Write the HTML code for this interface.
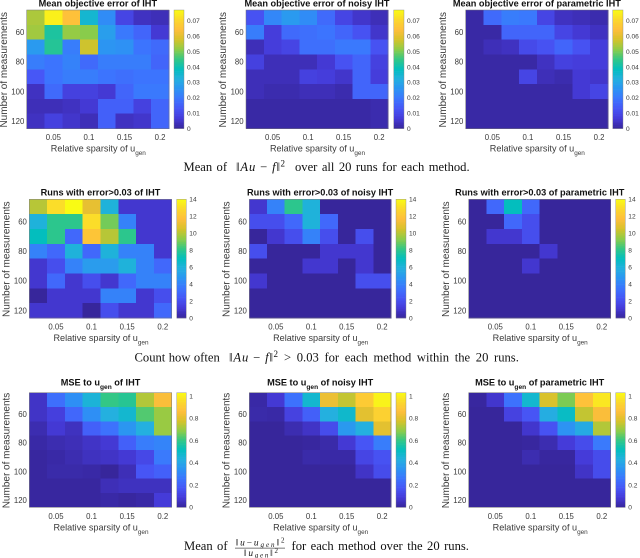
<!DOCTYPE html>
<html lang="en">
<head>
<meta charset="utf-8">
<title>IHT heatmaps</title>
<style>
html,body{margin:0;padding:0;background:#fff;width:640px;height:558px;overflow:hidden}
svg{display:block}
.cap{font-family:"Liberation Serif",serif;font-size:12.6px;fill:#111}
.it{font-style:italic}
</style>
</head>
<body>
<svg id="figure" xmlns="http://www.w3.org/2000/svg" width="640" height="558" viewBox="0 0 640 558">
  <g id="plots"></g>
  <g>
    <text class="cap" y="171" x="183.5" word-spacing="1.2">Mean of</text>
    <text class="cap" y="171" x="236" textLength="44">‖<tspan class="it">Au</tspan> − <tspan class="it">f</tspan>‖</text>
    <text class="cap" y="166.5" x="280.5" style="font-size:9px">2</text>
    <text class="cap" y="171" x="295" word-spacing="1.3">over all 20 runs for each method.</text>
  </g>
  <g>
    <text class="cap" y="361.5" x="134.5" word-spacing="0.3">Count how often</text>
    <text class="cap" y="361.5" x="229" textLength="44">‖<tspan class="it">Au</tspan> − <tspan class="it">f</tspan>‖</text>
    <text class="cap" y="357" x="273.5" style="font-size:9px">2</text>
    <text class="cap" y="361.5" x="284" word-spacing="2.5">&gt; 0.03 for each method within the 20 runs.</text>
  </g>
  <g>
    <text class="cap" y="550" x="184" word-spacing="1.2">Mean of</text>
    <text class="cap" y="545.5" x="235.5" textLength="49" style="font-size:9.4px">‖<tspan class="it">u</tspan>−<tspan class="it">u</tspan><tspan class="it" dy="1.5" style="font-size:7px">gen</tspan><tspan dy="-1.5">‖</tspan><tspan dy="-3" style="font-size:7px">2</tspan></text>
    <rect x="235" y="547.8" width="50" height="0.6" fill="#222"/>
    <text class="cap" y="556" x="244" textLength="34" style="font-size:9.4px">‖<tspan class="it">u</tspan><tspan class="it" dy="1.5" style="font-size:7px">gen</tspan><tspan dy="-1.5">‖</tspan><tspan dy="-3" style="font-size:7px">2</tspan></text>
    <text class="cap" y="550" x="291.5" word-spacing="1.3">for each method over the 20 runs.</text>
  </g>
</svg>
<script>
const xCategories = [0.025, 0.05, 0.075, 0.1, 0.125, 0.15, 0.175, 0.2];
const yCategories = [50, 60, 70, 80, 90, 100, 110, 120];
const xTickValues = [0.05, 0.1, 0.15, 0.2];
const yTickValues = [60, 80, 100, 120];
const xTickLabels = ['0.05', '0.1', '0.15', '0.2'];
const yTickLabels = ['60', '80', '100', '120'];

const meanTicks = [0, 0.01, 0.02, 0.03, 0.04, 0.05, 0.06, 0.07];
const meanTickLabels = ['0', '0.01', '0.02', '0.03', '0.04', '0.05', '0.06', '0.07'];
const meanMax = 0.077;
const countTicks = [0, 2, 4, 6, 8, 10, 12, 14];
const countTickLabels = ['0', '2', '4', '6', '8', '10', '12', '14'];
const countMax = 14;
const mseTicks = [0, 0.2, 0.4, 0.6, 0.8, 1];
const mseTickLabels = ['0', '0.2', '0.4', '0.6', '0.8', '1'];
const mseMax = 1.03;

const meanIht = [
  [0.054, 0.075, 0.065, 0.035, 0.024, 0.009, 0.004, 0.003],
  [0.053, 0.042, 0.052, 0.051, 0.028, 0.020, 0.016, 0.006],
  [0.027, 0.043, 0.021, 0.057, 0.026, 0.025, 0.019, 0.017],
  [0.021, 0.019, 0.022, 0.017, 0.021, 0.021, 0.021, 0.016],
  [0.013, 0.019, 0.021, 0.021, 0.019, 0.018, 0.019, 0.019],
  [0.004, 0.017, 0.008, 0.008, 0.006, 0.016, 0.020, 0.020],
  [0.003, 0.003, 0.004, 0.006, 0.015, 0.015, 0.008, 0.016],
  [0.004, 0.008, 0.005, 0.003, 0.015, 0.004, 0.005, 0.016]
];
const meanNoisy = [
  [0.012, 0.023, 0.027, 0.024, 0.017, 0.009, 0.005, 0.003],
  [0.021, 0.007, 0.017, 0.018, 0.019, 0.016, 0.012, 0.005],
  [0.003, 0.007, 0.009, 0.018, 0.018, 0.020, 0.020, 0.012],
  [0.008, 0.003, 0.003, 0.003, 0.006, 0.012, 0.016, 0.008],
  [0.003, 0.003, 0.003, 0.008, 0.007, 0.005, 0.016, 0.007],
  [0.003, 0.002, 0.002, 0.003, 0.003, 0.002, 0.016, 0.016],
  [0.001, 0.001, 0.001, 0.001, 0.001, 0.001, 0.001, 0.002],
  [0.001, 0.001, 0.001, 0.001, 0.001, 0.001, 0.001, 0.002]
];
const meanParametric = [
  [0.001, 0.017, 0.021, 0.020, 0.009, 0.004, 0.003, 0.002],
  [0.001, 0.001, 0.016, 0.016, 0.016, 0.009, 0.006, 0.004],
  [0.001, 0.003, 0.004, 0.010, 0.012, 0.016, 0.012, 0.007],
  [0.001, 0.001, 0.001, 0.001, 0.004, 0.008, 0.007, 0.007],
  [0.001, 0.001, 0.001, 0.009, 0.003, 0.002, 0.006, 0.005],
  [0.001, 0.001, 0.001, 0.001, 0.001, 0.001, 0.006, 0.009],
  [0.001, 0.001, 0.001, 0.001, 0.001, 0.001, 0.001, 0.001],
  [0.001, 0.001, 0.001, 0.001, 0.001, 0.001, 0.001, 0.001]
];
const countIht = [
  [10, 13, 14, 11, 6, 1, 1, 1],
  [6, 8, 8, 13, 9, 4, 1, 1],
  [7, 8, 3, 12, 10, 8, 1, 1],
  [4, 3, 6, 3, 6, 4, 4, 1],
  [1, 2, 4, 5, 5, 6, 4, 3],
  [1, 3, 1, 2, 1, 3, 4, 4],
  [0, 1, 1, 1, 4, 4, 1, 2],
  [1, 1, 1, 0, 2, 1, 1, 3]
];
const countNoisy = [
  [1, 4, 8, 6, 0, 0, 0, 0],
  [2, 2, 3, 6, 3, 0, 0, 0],
  [0, 1, 2, 4, 2, 0, 2, 0],
  [2, 0, 0, 0, 1, 1, 1, 0],
  [0, 0, 0, 1, 1, 0, 1, 0],
  [1, 0, 0, 0, 0, 0, 2, 2],
  [0, 0, 0, 0, 0, 0, 0, 0],
  [0, 0, 0, 0, 0, 0, 0, 0]
];
const countParametric = [
  [0, 3, 7, 3, 0, 0, 0, 0],
  [0, 0, 3, 2, 0, 0, 0, 0],
  [0, 1, 1, 2, 0, 0, 0, 0],
  [0, 0, 0, 0, 1, 0, 0, 0],
  [0, 0, 0, 1, 0, 0, 0, 0],
  [0, 0, 0, 0, 0, 0, 0, 0],
  [0, 0, 0, 0, 0, 0, 0, 0],
  [0, 0, 0, 0, 0, 0, 0, 0]
];
const mseIht = [
  [0.06, 0.24, 0.33, 0.45, 0.60, 0.58, 0.73, 0.85],
  [0.06, 0.10, 0.22, 0.33, 0.43, 0.47, 0.63, 0.70],
  [0.03, 0.08, 0.05, 0.20, 0.25, 0.35, 0.43, 0.70],
  [0.015, 0.03, 0.04, 0.06, 0.08, 0.20, 0.28, 0.30],
  [0.005, 0.015, 0.03, 0.05, 0.06, 0.08, 0.13, 0.27],
  [0.005, 0.02, 0.02, 0.015, 0, 0.04, 0.17, 0.20],
  [0.005, 0.005, 0.005, 0.005, 0.04, 0.05, 0.05, 0.05],
  [0.005, 0.005, 0.005, 0.005, 0.015, 0.005, 0.015, 0.09]
];
const mseNoisy = [
  [0.015, 0.08, 0.25, 0.47, 0.82, 0.75, 0.90, 1.01],
  [0.02, 0.015, 0.11, 0.20, 0.43, 0.48, 0.80, 0.92],
  [0, 0, 0.03, 0.06, 0.14, 0.36, 0.43, 0.80],
  [0, 0, 0, 0.005, 0.02, 0.08, 0.17, 0.28],
  [0, 0, 0, 0.02, 0.015, 0.015, 0.12, 0.16],
  [0, 0, 0, 0, 0, 0, 0.06, 0.14],
  [0, 0, 0, 0, 0, 0, 0, 0],
  [0, 0, 0, 0, 0, 0, 0, 0]
];
const mseParametric = [
  [0.005, 0.07, 0.25, 0.47, 0.78, 0.67, 0.87, 0.98],
  [0, 0, 0.11, 0.17, 0.42, 0.50, 0.75, 0.85],
  [0, 0, 0, 0.07, 0.16, 0.34, 0.41, 0.73],
  [0, 0, 0, 0.005, 0.03, 0.09, 0.14, 0.27],
  [0, 0, 0, 0.03, 0.005, 0.005, 0.09, 0.14],
  [0, 0, 0, 0, 0, 0, 0.06, 0.14],
  [0, 0, 0, 0, 0, 0, 0, 0],
  [0, 0, 0, 0, 0, 0, 0, 0]
];

const parula = [[55,38,155],[69,58,216],[71,86,246],[60,117,254],[44,148,243],[36,176,223],[3,190,190],[51,199,133],[142,204,72],[214,194,42],[254,190,60],[251,216,44],[249,251,20]];
function colorAt(t) {
  const c = Math.max(0, Math.min(1, t)) * (parula.length - 1);
  const i = Math.min(parula.length - 2, Math.floor(c));
  const f = c - i;
  const a = parula[i], b = parula[i + 1];
  return 'rgb(' + [0, 1, 2].map(function (k) { return Math.round(a[k] + (b[k] - a[k]) * f); }).join(',') + ')';
}

const NS = 'http://www.w3.org/2000/svg';
function mk(parent, tag, attrs, text) {
  const el = document.createElementNS(NS, tag);
  for (const k in attrs) el.setAttribute(k, attrs[k]);
  if (text !== undefined) el.textContent = text;
  parent.appendChild(el);
  return el;
}
const SANS = '"Liberation Sans", sans-serif';
const INK = '#3a3a3a';

function drawPanel(root, p) {
  const g = mk(root, 'g', {});
  
  
  const colW = (p.right - p.left) / xCategories.length;
  const rowH = (p.bottom - p.top) / yCategories.length;
  const xStep = xCategories[1] - xCategories[0];
  const yStep = yCategories[1] - yCategories[0];
  const xScale = function (v) { return p.left + ((v - xCategories[0]) / xStep + 0.5) * colW; };
  const yScale = function (v) { return p.top + ((v - yCategories[0]) / yStep + 0.5) * rowH; };
  const cScale = function (v) { return p.bottom - (v / p.max) * (p.bottom - p.top); };

  p.values.forEach(function (row, r) {
    row.forEach(function (v, c) {
      const cell = mk(g, 'rect', {
        x: xScale(xCategories[c]) - colW / 2,
        y: yScale(yCategories[r]) - rowH / 2,
        width: colW + 0.4,
        height: rowH + 0.4,
        'shape-rendering': 'crispEdges',
        fill: colorAt(v / p.max)
      });
      
      
    });
  });
  const box = mk(g, 'rect', { x: p.left, y: p.top, width: p.right - p.left, height: p.bottom - p.top, fill: 'none', stroke: '#777', 'stroke-width': 0.5 });
  
  

  xTickValues.forEach(function (v, i) {
    const t = mk(g, 'text', { x: xScale(v), y: p.bottom + 11.6, 'text-anchor': 'middle', 'font-family': SANS, 'font-size': 7.8, fill: INK }, xTickLabels[i]);
    
    
  });
  yTickValues.forEach(function (v, i) {
    const t = mk(g, 'text', { x: p.left - 2.4, y: yScale(v) + 2.8, 'text-anchor': 'end', 'font-family': SANS, 'font-size': 7.8, fill: INK }, yTickLabels[i]);
    
    
  });

  const xl = mk(g, 'text', { x: (p.left + p.right) / 2 + 0.5, y: p.bottom + 23, 'text-anchor': 'middle', 'font-family': SANS, 'font-size': 9.1, fill: INK });
  
  
  mk(xl, 'tspan', {}, 'Relative sparsity of u');
  mk(xl, 'tspan', { dy: 3.6, 'font-size': 6.4 }, 'gen');

  const yl = mk(g, 'text', {
    transform: 'translate(' + (p.left - 19.8) + ',' + ((p.top + p.bottom) / 2 + 0.5) + ') rotate(-90)',
    'text-anchor': 'middle', 'font-family': SANS, 'font-size': 10, fill: INK
  }, 'Number of measurements');
  
  

  const title = mk(g, 'text', { x: (p.left + p.right) / 2, y: p.titleY, 'text-anchor': 'middle', 'font-family': SANS, 'font-size': 9.2, 'font-weight': 700, fill: '#111' });
  
  
  if (p.titleSub) {
    mk(title, 'tspan', {}, p.titleHead);
    mk(title, 'tspan', { dy: 3.4, 'font-size': 6.6 }, p.titleSub);
    mk(title, 'tspan', { dy: -3.4 }, p.titleTail);
  } else {
    title.textContent = p.titleHead;
  }

  const cb = mk(g, 'g', {});
  
  
  const steps = 64;
  for (let s = 0; s < steps; s++) {
    const bandTop = p.top + (s / steps) * (p.bottom - p.top);
    const band = mk(cb, 'rect', { x: p.cbLeft, y: bandTop, width: p.cbRight - p.cbLeft, height: (p.bottom - p.top) / steps + 0.3, fill: colorAt(1 - (s + 0.5) / steps) });
    
    
  }
  const cbBox = mk(cb, 'rect', { x: p.cbLeft, y: p.top, width: p.cbRight - p.cbLeft, height: p.bottom - p.top, fill: 'none', stroke: '#888', 'stroke-width': 0.4 });
  
  
  p.ticks.forEach(function (v, i) {
    const t = mk(cb, 'text', { x: p.cbRight + 3, y: cScale(v) + 2.4, 'font-family': SANS, 'font-size': 6.6, fill: INK }, p.tickLabels[i]);
    
    
  });
}

function drawFigure() {
  const root = document.getElementById('plots');
  const colsTop = [[26.7, 169, 174, 184], [246, 388, 393.7, 404], [465.7, 608, 612.7, 623]];
  const colsLower = [[29.3, 171.7, 176.7, 186.3], [249.3, 391, 396, 406], [468.7, 610.7, 615.7, 625.3]];
  const rows = [
    { cols: colsTop, top: 10, bottom: 128.5, titleY: 6.6, max: meanMax, ticks: meanTicks, tickLabels: meanTickLabels,
      series: [meanIht, meanNoisy, meanParametric],
      heads: ['Mean objective error of IHT', 'Mean objective error of noisy IHT', 'Mean objective error of parametric IHT'] },
    { cols: colsLower, top: 199.3, bottom: 318, titleY: 195.7, max: countMax, ticks: countTicks, tickLabels: countTickLabels,
      series: [countIht, countNoisy, countParametric],
      heads: ['Runs with error>0.03 of IHT', 'Runs with error>0.03 of noisy IHT', 'Runs with error>0.03 of parametric IHT'] },
    { cols: colsLower, top: 392.7, bottom: 507.3, titleY: 385.4, max: mseMax, ticks: mseTicks, tickLabels: mseTickLabels,
      series: [mseIht, mseNoisy, mseParametric],
      heads: ['MSE to u', 'MSE to u', 'MSE to u'], sub: 'gen',
      tails: [' of IHT', ' of noisy IHT', ' of parametric IHT'] }
  ];
  rows.forEach(function (row) {
    row.series.forEach(function (values, i) {
      const c = row.cols[i];
      drawPanel(root, {
        left: c[0], right: c[1], cbLeft: c[2], cbRight: c[3],
        top: row.top, bottom: row.bottom, titleY: row.titleY,
        max: row.max, ticks: row.ticks, tickLabels: row.tickLabels, values: values,
        titleHead: row.heads[i], titleSub: row.sub, titleTail: row.tails ? row.tails[i] : ''
      });
    });
  });
}
drawFigure();
</script>
</body>
</html>
